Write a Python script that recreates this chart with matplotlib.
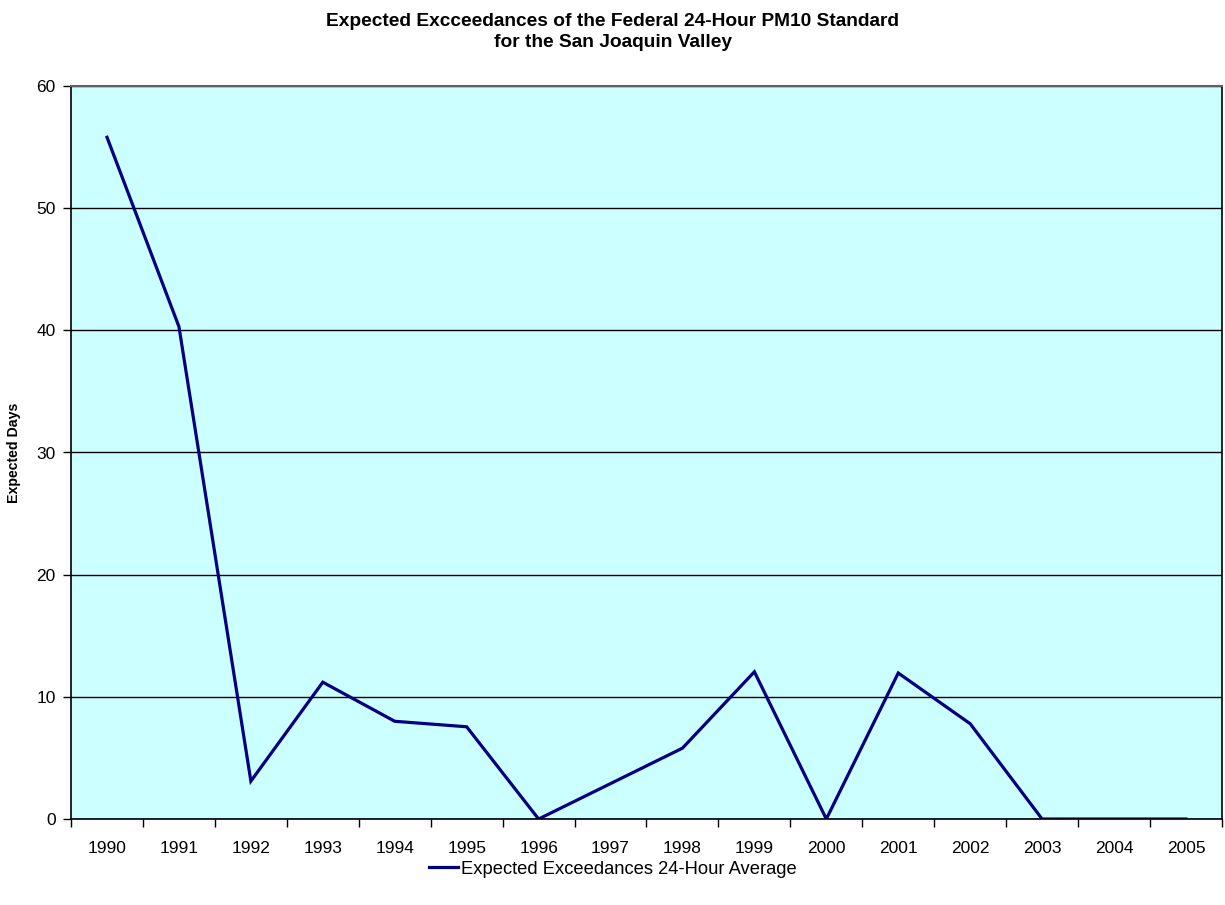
import numpy as np
import matplotlib.pyplot as plt

years = ['1990', '1991', '1992', '1993', '1994', '1995', '1996', '1997',
         '1998', '1999', '2000', '2001', '2002', '2003', '2004', '2005']
exceedances = [55.8, 40.3, 3.1, 11.2, 8.0, 7.55, 0.0, 2.9,
               5.8, 12.05, 0.0, 11.95, 7.8, 0.0, 0.0, 0.0]

plt.rcParams['font.family'] = ['Liberation Sans', 'DejaVu Sans']

fig = plt.figure(figsize=(12.25, 9.05), dpi=100)
ax = fig.add_axes([0.058, 0.095, 0.9395, 0.81])
ax.set_facecolor('#CCFFFF')

x = np.arange(len(years))
ax.plot(x, exceedances, color='#000080', linewidth=2.3,
        label='Expected Exceedances 24-Hour Average', solid_joinstyle='miter')

ax.set_xlim(-0.5, len(years) - 0.5)
ax.set_ylim(0, 60)
ax.set_yticks(np.arange(0, 61, 10))
ax.yaxis.grid(True, color='black', linewidth=1)
ax.set_axisbelow(True)

# category ticks between labels, like Excel
ax.set_xticks(x)
ax.set_xticklabels(years)
ax.set_xticks(np.arange(-0.5, len(years)), minor=True)
ax.tick_params(axis='x', which='major', length=0, pad=16, labelsize=12.5)
ax.tick_params(axis='x', which='minor', length=6, width=1, direction='out')
ax.tick_params(axis='y', length=6, width=1, direction='out', labelsize=12.5, pad=5)

for side in ['left', 'bottom', 'right']:
    ax.spines[side].set_color('black')
    ax.spines[side].set_linewidth(1.2)
ax.spines['top'].set_color('#606060')
ax.spines['top'].set_linewidth(1.5)

ax.set_ylabel('Expected Days', fontsize=10.2, fontweight='bold', labelpad=11)
fig.suptitle('Expected Excceedances of the Federal 24-Hour PM10 Standard\nfor the San Joaquin Valley',
             fontsize=13.8, fontweight='bold', y=0.986, linespacing=1.3)

fig.legend(loc='lower center', bbox_to_anchor=(0.5, 0.012), frameon=False,
           fontsize=13.2, handlelength=1.6, handletextpad=0.15)

fig.savefig('out.png', dpi=100)
